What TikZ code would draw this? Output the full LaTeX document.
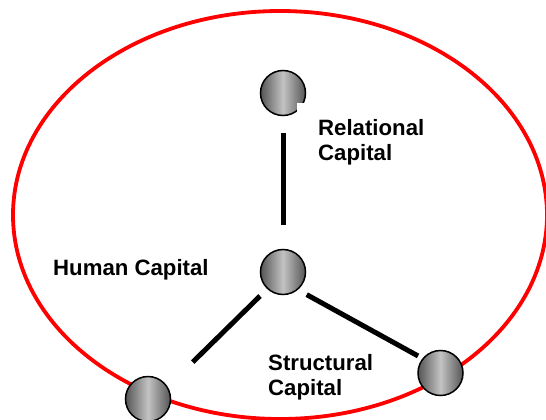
\documentclass[tikz,border=0pt]{standalone}
\usepackage{fontspec}
\setmainfont{Liberation Sans}
\definecolor{balldark}{RGB}{85,85,85}
\definecolor{balllight}{RGB}{195,195,195}
\definecolor{ringred}{RGB}{255,0,0}
\begin{document}
\begin{tikzpicture}[x=1pt,y=-1pt,
  ball/.style={circle, minimum size=45pt, inner sep=0pt, draw=black, line width=1.5pt,
    left color=balldark, right color=balldark, middle color=balllight},
  link/.style={line width=5pt, black},
  lab/.style={font=\fontsize{22.2}{25}\selectfont\bfseries, align=left, inner sep=0pt, anchor=north west}]
\useasboundingbox (0,0) rectangle (546,420);
\draw[ringred, line width=3.8pt] (280,215) ellipse [x radius=267, y radius=204];
\node[ball] (t) at (283,93) {};
\node[ball] (c) at (283,272) {};
\node[ball] (bl) at (148,399) {};
\node[ball] (br) at (440.5,373) {};
\draw[link, shorten <=17pt, shorten >=24pt] (t) -- (c);
\draw[link, shorten <=10pt, shorten >=35pt] (c.-133) -- (bl.32);
\draw[link, shorten <=10pt, shorten >=5pt] (c.-50) -- (br.141);
\node[lab, fill=white, inner xsep=21pt, inner ysep=16pt] (rel) at (297,103) {Relational\\Capital};
\node[lab] (hum) at (53,259) {Human Capital};
\node[lab] (str) at (268,354) {Structural\\Capital};
\end{tikzpicture}
\end{document}
